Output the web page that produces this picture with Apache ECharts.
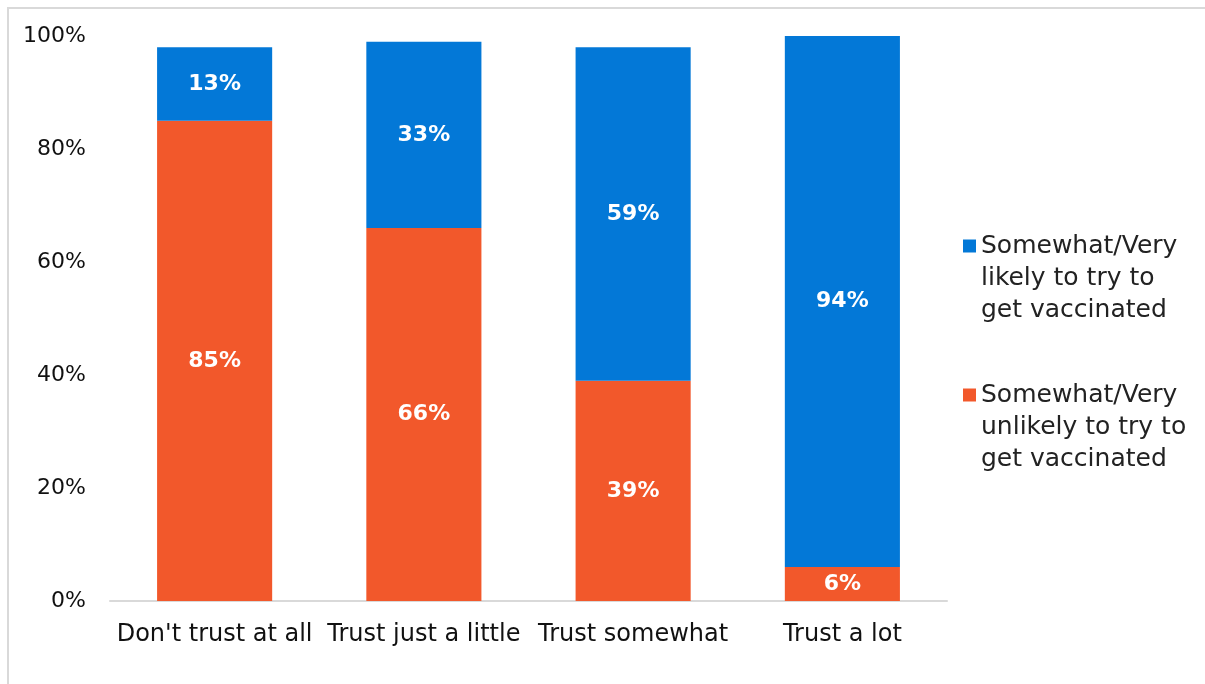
<!DOCTYPE html>
<html>
<head>
<meta charset="utf-8">
<script src="https://cdn.jsdelivr.net/npm/echarts@6/dist/echarts.min.js"></script>
<style>
  html, body { margin: 0; padding: 0; background: #fff; overflow: hidden; }
  #frame { position: absolute; left: 7px; top: 7px; width: 1210px; height: 690px;
           border-top: 2px solid #d9d9d9; border-left: 2px solid #d9d9d9; }
  #main { position: absolute; left: 0; top: 0; width: 1205px; height: 684px; }
</style>
</head>
<body>
<div id="frame"></div>
<div id="main"></div>
<script>
// categories and values (percent)
var categories = ["Don't trust at all", 'Trust just a little', 'Trust somewhat', 'Trust a lot'];
var unlikely = [85, 66, 39, 6];
var likely = [13, 33, 59, 94];
var yTicks = [0, 20, 40, 60, 80, 100];
var likelyName = 'Somewhat/Very\nlikely to try to\nget vaccinated';
var unlikelyName = 'Somewhat/Very\nunlikely to try to\nget vaccinated';

var BLUE = '#0378d7';
var ORANGE = '#f2582b';
var FONT = 'DejaVu Sans';

var chart = echarts.init(document.getElementById('main'));

var segLabel = {
  show: true,
  position: 'inside',
  color: '#fff',
  fontFamily: FONT,
  fontWeight: 'bold',
  fontSize: 22,
  formatter: '{c}%'
};

chart.setOption({
  animation: false,
  grid: { left: 110, right: 258, top: 36, bottom: 83 },
  legend: {
    orient: 'vertical',
    left: 963,
    top: 166,
    padding: 0,
    itemWidth: 13,
    itemHeight: 13,
    itemGap: -11,
    icon: 'rect',
    data: [likelyName, unlikelyName],
    // two blank lines above so the icon sits beside the first text line
    formatter: function (name) { return '\n\n' + name; },
    textStyle: {
      fontFamily: FONT,
      fontSize: 25,
      color: '#222',
      lineHeight: 32
    }
  },
  xAxis: {
    type: 'category',
    data: categories,
    axisLine: { lineStyle: { color: '#d9d9d9', width: 2 } },
    axisTick: { show: false },
    axisLabel: { color: '#111', fontFamily: FONT, fontSize: 24, margin: 22, interval: 0 }
  },
  yAxis: {
    type: 'value',
    min: yTicks[0],
    max: yTicks[yTicks.length - 1],
    interval: 20,
    splitLine: { show: false },
    axisLine: { show: false },
    axisTick: { show: false },
    axisLabel: { color: '#111', fontFamily: FONT, fontSize: 22, margin: 24, formatter: '{value}%' }
  },
  series: [
    {
      name: unlikelyName,
      type: 'bar',
      stack: 'total',
      barWidth: '55%',
      itemStyle: { color: ORANGE },
      label: segLabel,
      data: unlikely
    },
    {
      name: likelyName,
      type: 'bar',
      stack: 'total',
      barWidth: '55%',
      itemStyle: { color: BLUE },
      label: segLabel,
      data: likely
    }
  ]
});
</script>
</body>
</html>
